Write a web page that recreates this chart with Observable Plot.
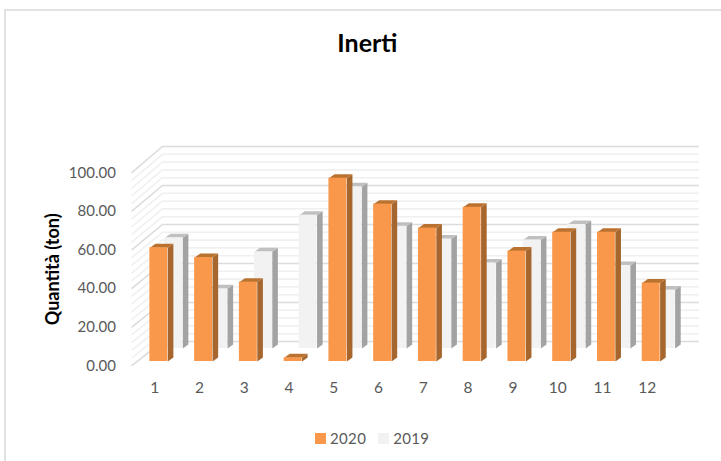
<!DOCTYPE html>
<html>
<head>
<meta charset="utf-8">
<script src="https://cdn.jsdelivr.net/npm/d3@7"></script>
<script src="https://cdn.jsdelivr.net/npm/@observablehq/plot@0.6"></script>
<style>
html,body{margin:0;padding:0;background:#fff;}
#wrap{position:relative;width:721px;height:461px;overflow:hidden;font-family:Lato,sans-serif;}
#frame{position:absolute;left:4px;top:9px;right:-4px;bottom:-4px;border-left:2px solid #e2e2e2;border-top:2px solid #e2e2e2;}
#chart{position:absolute;left:0;top:0;}
#legend{position:absolute;left:315px;top:428px;display:flex;align-items:center;font-size:15px;letter-spacing:.35px;color:#595959;line-height:20px;}
#legend i{display:inline-block;width:11px;height:11px;margin-right:4px;}
#legend span{margin-right:12px;}
</style>
</head>
<body>
<div id="wrap">
<div id="frame"></div>
<div id="chart"></div>
<div id="legend"></div>
</div>
<script>
const months = [1,2,3,4,5,6,7,8,9,10,11,12];
const values2020 = [58.3,53.3,40.7,1.9,94,80.7,68.4,79.1,56.6,66.3,66.3,40.2];
const values2019 = [56.8,30.6,49.6,68.4,82.9,62.7,56.2,43.9,55.7,63.6,42.6,30];
const axisTicks = [0,20,40,60,80,100];
const gridLevels = d3.range(0,101,4);
const seriesNames = ["2020","2019"];
const seriesColors = {"2020":{front:"#f9974a",side:"#a7662d",top:"#ba7231"},
                      "2019":{front:"#f2f2f2",side:"#a3a3a3",top:"#c0c0c0"}};

// depth geometry of the pseudo-3D box, in scale units
const barW = 0.40, depthX = 0.125, depthY = 2.05;
const base = {"2020":-10.25,"2019":-3.6};
const shift = {"2020":-0.11,"2019":0.225};
const wallLeftBack = 1.17, wallLeftFront = 0.48, wallRight = 13.17;
const frontY = v => v*0.99 - 12.5;

function barParts(name, vals){
  const front=[], side=[], top=[];
  months.forEach((m,i)=>{
    const x0=m+shift[name], x1=x0+barW, b=base[name], t=b+vals[i];
    front.push({x1:x0,x2:x1,y1:b,y2:t});
    [[x1,b],[x1+depthX,b+depthY],[x1+depthX,t+depthY],[x1,t]].forEach(p=>side.push({m,x:p[0],y:p[1]}));
    [[x0,t],[x0+depthX,t+depthY],[x1+depthX,t+depthY],[x1,t]].forEach(p=>top.push({m,x:p[0],y:p[1]}));
  });
  return {front,side,top};
}
function barMarks(name, vals){
  const p=barParts(name,vals), c=seriesColors[name];
  return [
    Plot.line(p.side,{x:"x",y:"y",z:"m",fill:c.side,stroke:"none"}),
    Plot.line(p.top,{x:"x",y:"y",z:"m",fill:c.top,stroke:"none"}),
    Plot.rect(p.front,{x1:"x1",x2:"x2",y1:"y1",y2:"y2",fill:c.front})
  ];
}
const minor = gridLevels.filter(v=>v%20!==0), major = gridLevels.filter(v=>v%20===0);
const wallMarks = (levels,color,w)=>[
  Plot.ruleY(levels,{y:d=>d,x1:wallLeftBack,x2:wallRight,stroke:color,strokeWidth:w}),
  Plot.link(levels,{x1:wallLeftFront,y1:frontY,x2:wallLeftBack,y2:d=>d,stroke:color,strokeWidth:w})
];

const plot = Plot.plot({
  width:721, height:461, margin:0,
  x:{domain:[0,13.5],range:[109.54,713.8],axis:null},
  y:{domain:[-30,110],range:[399.5,126.5],axis:null},
  style:{background:"transparent",fontFamily:"Lato,sans-serif"},
  marks:[
    ...wallMarks(minor,"#f0f0f0",1.6),
    ...wallMarks(major,"#dcdcdc",1.6),
    ...barMarks("2019",values2019),
    ...barMarks("2020",values2020),
    Plot.text(axisTicks,{x:0.6,dx:-21,y:frontY,text:d=>d.toFixed(2),textAnchor:"end",fontSize:15,fill:"#595959"}),
    Plot.text(months,{x:d=>d,y:-24,text:d=>String(d),fontSize:15.5,fill:"#595959"}),
    Plot.text(["Quantità (ton)"],{x:-1.28,y:37,text:d=>d,rotate:-90,fontSize:18,fontWeight:"bold",fill:"#000"}),
    Plot.text(["Inerti"],{x:5.75,y:152.5,text:d=>d,fontSize:25,fontWeight:"bold",fill:"#000"})
  ]
});
document.getElementById("chart").appendChild(plot);

const legend=document.getElementById("legend");
seriesNames.forEach(n=>{
  const i=document.createElement("i"); i.style.background=seriesColors[n].front; legend.appendChild(i);
  const s=document.createElement("span"); s.textContent=n; legend.appendChild(s);
});
</script>
</body>
</html>
